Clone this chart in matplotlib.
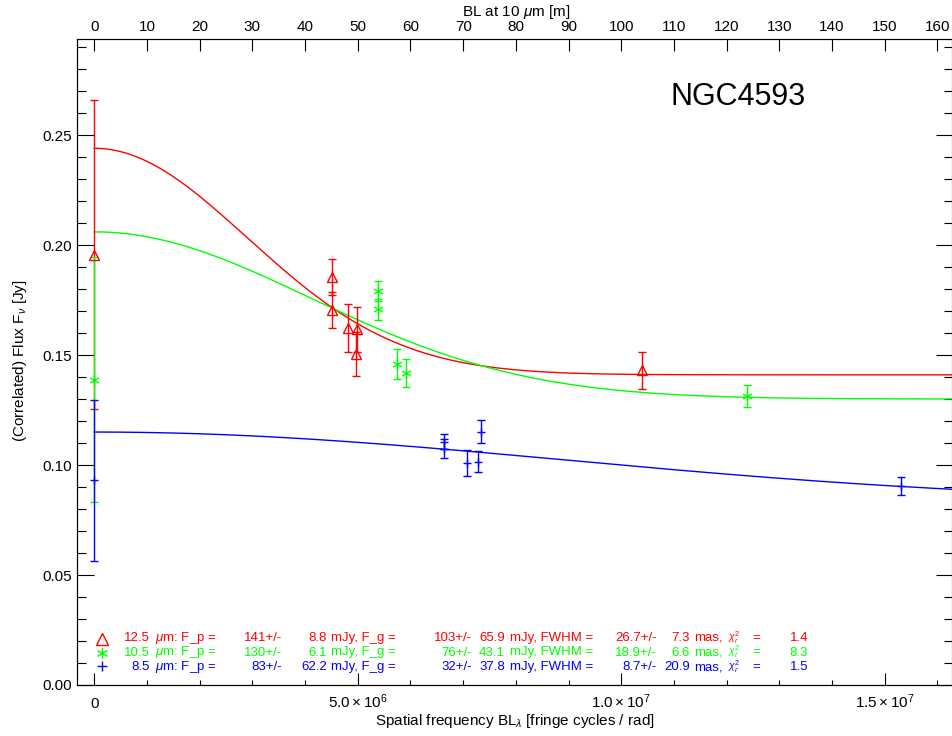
import numpy as np
import matplotlib
matplotlib.use("Agg")
import matplotlib.pyplot as plt
from matplotlib.path import Path
from matplotlib.ticker import FixedLocator, MultipleLocator, FuncFormatter, FormatStrFormatter

plt.rcParams['font.family'] = ['Liberation Sans', 'DejaVu Sans']
plt.rcParams['mathtext.fontset'] = 'custom'
plt.rcParams['mathtext.rm'] = 'Liberation Sans'
plt.rcParams['mathtext.it'] = 'Liberation Sans:italic'
plt.rcParams['mathtext.bf'] = 'Liberation Sans:bold'

W, H, DPI = 953, 736, 100

# ---- measured correlated fluxes (spatial frequency in fringe cycles / rad, flux in Jy)
freq_125 = [0.0, 4.52e6, 4.52e6, 4.82e6, 4.98e6, 4.96e6, 10.39e6]
flux_125 = [0.1956, 0.1856, 0.1705, 0.1623, 0.1618, 0.1506, 0.1430]
err_125 = [0.0703, 0.0081, 0.0083, 0.0110, 0.0102, 0.0100, 0.0086]

freq_105 = [0.0, 5.39e6, 5.39e6, 5.74e6, 5.91e6, 12.38e6]
flux_105 = [0.1387, 0.1791, 0.1708, 0.1459, 0.1417, 0.1314]
err_105 = [0.0557, 0.0045, 0.0049, 0.0067, 0.0064, 0.0052]

freq_85 = [0.0, 6.64e6, 6.64e6, 7.08e6, 7.29e6, 7.33e6, 15.30e6]
flux_85 = [0.0930, 0.1106, 0.1075, 0.1008, 0.1016, 0.1152, 0.0905]
err_85 = [0.0365, 0.0034, 0.0044, 0.0059, 0.0049, 0.0053, 0.0042]

# ---- fit results: point source + Gaussian
wavelengths = [12.5, 10.5, 8.5]
Fp = [141, 130, 83]            # mJy
Fp_err = [8.8, 6.1, 62.2]
Fg = [103, 76, 32]             # mJy
Fg_err = [65.9, 43.1, 37.8]
fwhm = [26.7, 18.9, 8.7]       # mas
fwhm_err = [7.3, 6.6, 20.9]
chi2_red = [1.4, 8.3, 1.5]

colors = ['#ff0000', '#00ff00', '#0000ff']
star_path = Path([(0, 1), (0, -1), (0.866, 0.5), (-0.866, -0.5), (0.866, -0.5), (-0.866, 0.5)],
                 [Path.MOVETO, Path.LINETO] * 3)
markers = ['^', star_path, '+']
msizes = [7.4, 7.4, 6]

freqs = [freq_125, freq_105, freq_85]
fluxes = [flux_125, flux_105, flux_85]
errs = [err_125, err_105, err_85]


def model(f, fp, fg, fw):
    theta = fw * 1e-3 / 206264.806
    return (fp + fg * np.exp(-(np.pi * theta * f) ** 2 / (4 * np.log(2)))) / 1000.0


def px(x, y):
    return x / W, 1 - y / H


fig = plt.figure(figsize=(W / DPI, H / DPI), dpi=DPI)
x0, x1, y0, y1 = 76.7, 952.5, 685.0, 38.5
ax = fig.add_axes([x0 / W, 1 - y0 / H, (x1 - x0) / W, (y0 - y1) / H])

xlim = (-0.334e6, 16.285e6)
ylim = (0.0, 0.2939)
ax.set_xlim(*xlim)
ax.set_ylim(*ylim)

fgrid = np.linspace(0, xlim[1], 600)
for i in range(3):
    c = colors[i]
    ax.plot(fgrid, model(fgrid, Fp[i], Fg[i], fwhm[i]), color=c, lw=1.0, zorder=2)
    ax.errorbar(freqs[i], fluxes[i], yerr=errs[i], fmt='none', ecolor=c,
                elinewidth=1.0, capsize=3.0, capthick=1.0, zorder=3)
    ax.plot(freqs[i], fluxes[i], linestyle='none', marker=markers[i], ms=msizes[i],
            mfc='none', mec=c, mew=1.0, zorder=4)

# axes styling
for s in ax.spines.values():
    s.set_linewidth(0.8)
ax.xaxis.set_major_locator(FixedLocator([0, 5e6, 1e7, 1.5e7]))
ax.xaxis.set_minor_locator(MultipleLocator(1e6))


def xfmt(v, pos):
    if v == 0:
        return '0'
    e = int(np.floor(np.log10(v)))
    return r'$%.1f\times10^{%d}$' % (v / 10 ** e, e)


ax.xaxis.set_major_formatter(FuncFormatter(xfmt))
ax.yaxis.set_major_locator(MultipleLocator(0.05))
ax.yaxis.set_minor_locator(MultipleLocator(0.01))
ax.yaxis.set_major_formatter(FormatStrFormatter('%.2f'))

ax.tick_params(axis='x', which='major', direction='in', length=8.6, width=0.8,
               top=False, bottom=True, labelsize=11, pad=16.8)
ax.tick_params(axis='x', which='minor', direction='in', length=3.6, width=0.8,
               top=False, bottom=True)
ax.tick_params(axis='y', which='major', direction='in', length=12.5, width=0.8,
               left=True, right=True, labelsize=11, pad=3.5)
ax.tick_params(axis='y', which='minor', direction='in', length=6.3, width=0.8,
               left=True, right=True)
for lab in ax.get_xticklabels():
    lab.set_verticalalignment('baseline')

# top axis: baseline length at 10 micron
ax2 = ax.twiny()
ax2.set_xlim(xlim[0] * 1e-5, xlim[1] * 1e-5)
ax2.xaxis.set_major_locator(MultipleLocator(10))
ax2.tick_params(axis='x', which='major', direction='in', length=8.6, width=0.8,
                top=True, bottom=False, labeltop=True, labelbottom=False,
                labelsize=11, pad=3)
ax2.tick_params(axis='x', which='minor', length=0)
for s in ax2.spines.values():
    s.set_linewidth(0.8)

# axis titles
fig.text(*px(20, 361), '(Correlated) Flux F$_\\nu$ [Jy]', rotation=90,
         ha='center', va='center', fontsize=11)
fig.text(*px(515, 721), 'Spatial frequency BL$_\\lambda$ [fringe cycles / rad]',
         ha='center', va='center', fontsize=11)
fig.text(*px(516, 12), 'BL at 10 $\\mu$m [m]', ha='center', va='center', fontsize=11)
fig.text(*px(671, 105), 'NGC4593', ha='left', va='baseline', fontsize=22)

# fit summary lines
row_base = [641, 655.5, 670]
sym_y = [639, 653, 666]
fs = 9.5
for i in range(3):
    c = colors[i]
    yb = row_base[i]
    ax.plot([(102 - x0) / (x1 - x0)], [(y0 - sym_y[i]) / (y0 - y1)],
            transform=ax.transAxes, marker=markers[i], ms=msizes[i] + 1, mfc='none',
            mec=c, mew=1.0, linestyle='none', clip_on=False)
    pieces = [
        (150, '%.1f' % wavelengths[i], 'right', fs),
        (155, '$\\mu$m: F_p =', 'left', fs),
        (282, '%d+/-' % Fp[i], 'right', fs),
        (327, '%.1f' % Fp_err[i], 'right', fs),
        (331, 'mJy, F_g =', 'left', fs),
        (472, '%d+/-' % Fg[i], 'right', fs),
        (505, '%.1f' % Fg_err[i], 'right', fs),
        (510, 'mJy, FWHM =', 'left', fs),
        (657, '%.1f+/-' % fwhm[i], 'right', fs),
        (690, '%.1f' % fwhm_err[i], 'right', fs),
        (694, 'mas,', 'left', fs),
        (728, '$\\chi^2_r$', 'left', 7.5),
        (752, '=', 'left', fs),
        (808, '%.1f' % chi2_red[i], 'right', fs),
    ]
    for xp, s, ha, size in pieces:
        fig.text(*px(xp, yb), s, ha=ha, va='baseline', fontsize=size, color=c)

fig.savefig('out.png', dpi=DPI)
